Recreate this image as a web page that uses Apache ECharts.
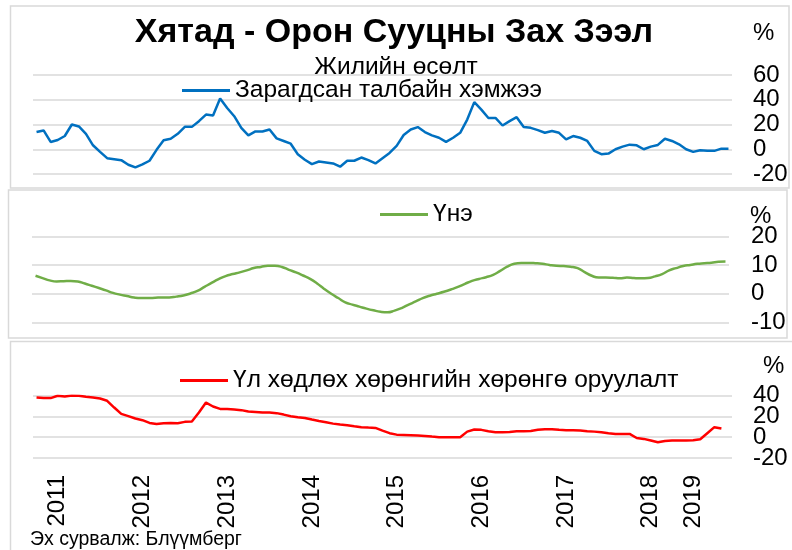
<!DOCTYPE html>
<html>
<head>
<meta charset="utf-8">
<script src="https://cdn.jsdelivr.net/npm/echarts@6/dist/echarts.min.js"></script>
<style>
  html, body { margin: 0; padding: 0; background: #fff; }
  #chart { width: 792px; height: 550px; }
</style>
</head>
<body>
<div id="chart"></div>
<script>
const FONT = "'Liberation Sans', Arial, sans-serif";

// monthly categories (2018 has only six observations)
const categories = [
  "2010-10", "2010-11", "2010-12",
  "2011-01", "2011-02", "2011-03", "2011-04", "2011-05", "2011-06", "2011-07", "2011-08", "2011-09", "2011-10", "2011-11", "2011-12",
  "2012-01", "2012-02", "2012-03", "2012-04", "2012-05", "2012-06", "2012-07", "2012-08", "2012-09", "2012-10", "2012-11", "2012-12",
  "2013-01", "2013-02", "2013-03", "2013-04", "2013-05", "2013-06", "2013-07", "2013-08", "2013-09", "2013-10", "2013-11", "2013-12",
  "2014-01", "2014-02", "2014-03", "2014-04", "2014-05", "2014-06", "2014-07", "2014-08", "2014-09", "2014-10", "2014-11", "2014-12",
  "2015-01", "2015-02", "2015-03", "2015-04", "2015-05", "2015-06", "2015-07", "2015-08", "2015-09", "2015-10", "2015-11", "2015-12",
  "2016-01", "2016-02", "2016-03", "2016-04", "2016-05", "2016-06", "2016-07", "2016-08", "2016-09", "2016-10", "2016-11", "2016-12",
  "2017-01", "2017-02", "2017-03", "2017-04", "2017-05", "2017-06", "2017-07", "2017-08", "2017-09", "2017-10", "2017-11", "2017-12",
  "2018-01", "2018-03", "2018-05", "2018-07", "2018-09", "2018-11",
  "2019-01", "2019-02", "2019-03", "2019-04", "2019-05", "2019-06"
];

// Зарагдсан талбайн хэмжээ, жилийн өсөлт %
const floorArea = [
  13.9, 15.2, 5.9, 7.5, 10.7, 20.0, 18.4, 12.5, 3.2, -2.1,
  -7.2, -8.0, -8.8, -12.5, -14.7, -12.3, -9.3, -0.5, 7.2, 8.5,
  12.5, 18.1, 18.1, 22.7, 28.0, 27.2, 41.0, 33.3, 26.7, 17.3,
  11.2, 14.4, 14.4, 16.0, 8.8, 6.7, 4.5, -4.0, -8.5, -12.0,
  -9.9, -10.7, -11.5, -14.1, -9.3, -9.3, -6.7, -8.8, -11.5, -7.2,
  -3.0, 2.7, 11.5, 16.0, 17.9, 13.9, 11.2, 9.3, 5.9, 9.3,
  13.3, 24.0, 38.1, 32.0, 25.3, 25.3, 19.2, 22.7, 25.9, 17.9,
  17.3, 15.5, 13.3, 14.7, 13.3, 8.0, 10.7, 9.3, 6.7, -1.3,
  -4.0, -3.5, 0.0, 2.1, 3.7, 3.2, 0.0, 2.1, 3.5, 8.5,
  6.7, 4.0, 0.0, -2.1, -0.8, -1.3, -1.3, 0.5, 0.5
];

// Үнэ, жилийн өсөлт %
const price = [
  6.3, 5.5, 4.7, 4.3, 4.4, 4.5, 4.3, 3.6, 2.8, 2.0,
  1.2, 0.3, -0.3, -0.8, -1.3, -1.5, -1.5, -1.4, -1.3, -1.3,
  -1.0, -0.6, 0.1, 1.0, 2.4, 3.8, 5.1, 6.2, 6.9, 7.5,
  8.2, 9.0, 9.4, 9.8, 9.8, 9.4, 8.4, 7.5, 6.4, 5.2,
  3.6, 1.7, 0.0, -1.5, -3.0, -3.8, -4.5, -5.2, -5.8, -6.3,
  -6.5, -5.9, -5.0, -3.8, -2.7, -1.5, -0.7, 0.0, 0.7, 1.5,
  2.4, 3.5, 4.5, 5.2, 5.8, 6.6, 8.0, 9.5, 10.5, 10.8,
  10.8, 10.7, 10.5, 10.1, 9.8, 9.7, 9.5, 9.0, 7.6, 6.3,
  5.7, 5.7, 5.6, 5.4, 5.7, 5.5, 5.4, 5.5, 6.1, 6.9,
  8.2, 9.0, 9.7, 10.1, 10.5, 10.7, 10.9, 11.2, 11.3
];

// Үл хөдлөх хөрөнгийн хөрөнгө оруулалт, жилийн өсөлт %
const investment = [
  38.3, 37.7, 37.7, 39.9, 39.2, 40.2, 39.9, 38.9, 38.3, 37.3,
  35.1, 28.6, 22.5, 20.3, 18.0, 16.4, 13.8, 12.8, 13.5, 13.8,
  13.5, 14.8, 15.1, 23.8, 33.4, 29.6, 27.3, 27.3, 26.7, 26.1,
  24.7, 24.4, 23.8, 23.8, 23.2, 21.8, 20.3, 19.3, 18.6, 17.0,
  15.7, 14.5, 13.1, 12.2, 11.6, 10.6, 9.7, 9.3, 9.0, 6.4,
  3.9, 2.5, 2.2, 1.9, 1.6, 1.3, 0.6, 0.0, 0.0, 0.0,
  0.0, 5.4, 7.4, 7.1, 5.8, 4.8, 4.8, 5.1, 5.8, 5.8,
  6.1, 7.1, 7.7, 7.7, 7.1, 6.8, 6.8, 6.4, 5.8, 5.4,
  4.8, 3.9, 3.2, 3.2, 3.2, -0.7, -1.6, -3.2, -4.8, -3.6,
  -3.2, -3.2, -3.2, -2.9, -1.9, 3.9, 9.7, 8.4
];

// the bottom panel's tick labels sit so close that they are split over two axes
const investTicksA = [-20, 20];
const investTicksB = [0, 40];

const chart = echarts.init(document.getElementById("chart"));

function valueAxis(gridIndex, min, max, interval, margin, onlyTicks, showGrid) {
  return {
    type: "value",
    gridIndex: gridIndex,
    position: "right",
    min: min,
    max: max,
    interval: interval,
    axisLine: { show: false },
    axisTick: { show: false },
    axisLabel: {
      color: "#000",
      fontSize: 24,
      fontFamily: FONT,
      margin: margin,
      formatter: (v) => (!onlyTicks || onlyTicks.includes(v)) ? String(v) : ""
    },
    splitLine: { show: showGrid !== false, lineStyle: { color: "#d9d9d9", width: 1.5 } }
  };
}

function categoryAxis(gridIndex, showLabels) {
  return {
    type: "category",
    gridIndex: gridIndex,
    data: categories,
    boundaryGap: true,
    axisLine: { show: false },
    axisTick: { show: false },
    axisLabel: showLabels ? {
      interval: (index, value) => value.endsWith("-01"),
      formatter: (value) => value.slice(0, 4),
      rotate: 90,
      margin: 17,
      color: "#000",
      fontSize: 24,
      fontFamily: FONT
    } : { show: false }
  };
}

function legendAt(name, left, top) {
  return {
    data: [name],
    left: left,
    top: top,
    padding: 0,
    icon: "rect",
    itemWidth: 48,
    itemHeight: 3,
    selectedMode: false,
    textStyle: { color: "#000", fontSize: 24.5, fontFamily: FONT }
  };
}

function boxShape(x, y, w, h) {
  return {
    type: "rect",
    shape: { x: x, y: y, width: w, height: h },
    style: { fill: "none", stroke: "#d9d9d9", lineWidth: 1.5 },
    silent: true
  };
}

function label(text, x, y, size, weight, align) {
  return {
    type: "text",
    x: x,
    y: y,
    style: {
      text: text,
      fill: "#000",
      font: (weight || "normal") + " " + size + "px " + FONT,
      textAlign: align || "center",
      textVerticalAlign: "middle"
    },
    silent: true
  };
}

chart.setOption({
  animation: false,
  backgroundColor: "#fff",
  grid: [
    { left: 33, right: 60, top: 75, height: 99 },
    { left: 32, right: 63, top: 236.7, height: 85.6 },
    { left: 33, right: 60, top: 395.7, height: 62.3 }
  ],
  xAxis: [categoryAxis(0, false), categoryAxis(1, false), categoryAxis(2, true)],
  yAxis: [
    valueAxis(0, -20, 60, 20, 21),
    valueAxis(1, -10, 20, 10, 22),
    valueAxis(2, -20, 40, 20, 21, investTicksA),
    valueAxis(2, -20, 40, 20, 21, investTicksB, false)
  ],
  legend: [
    legendAt("Зарагдсан талбайн хэмжээ", 182, 78),
    legendAt("Үнэ", 380, 202),
    legendAt("Үл хөдлөх хөрөнгийн хөрөнгө оруулалт", 180, 368)
  ],
  graphic: [
    boxShape(10.5, 6, 778.5, 182),
    boxShape(8.5, 190, 778.5, 148),
    boxShape(10.5, 341.5, 790, 220),
    label("Хятад - Орон Сууцны Зах Зээл", 394, 33, 34, "bold"),
    label("Жилийн өсөлт", 396, 67, 24.5),
    label("%", 753, 33, 24, "normal", "left"),
    label("%", 750, 216, 24, "normal", "left"),
    label("%", 763, 366, 24, "normal", "left"),
    label("Эх сурвалж: Блүүмберг", 30, 540, 19.5, "normal", "left")
  ],
  series: [
    {
      name: "Зарагдсан талбайн хэмжээ",
      type: "line",
      xAxisIndex: 0,
      yAxisIndex: 0,
      data: floorArea,
      showSymbol: false,
      symbol: "none",
      itemStyle: { color: "#0070C0" },
      lineStyle: { color: "#0070C0", width: 2.5 }
    },
    {
      name: "Үнэ",
      type: "line",
      xAxisIndex: 1,
      yAxisIndex: 1,
      data: price,
      smooth: true,
      showSymbol: false,
      symbol: "none",
      itemStyle: { color: "#70AD47" },
      lineStyle: { color: "#70AD47", width: 2.5 }
    },
    {
      name: "Үл хөдлөх хөрөнгийн хөрөнгө оруулалт",
      type: "line",
      xAxisIndex: 2,
      yAxisIndex: 2,
      data: investment,
      showSymbol: false,
      symbol: "none",
      itemStyle: { color: "#FF0000" },
      lineStyle: { color: "#FF0000", width: 2.5 }
    }
  ]
});
</script>
</body>
</html>
